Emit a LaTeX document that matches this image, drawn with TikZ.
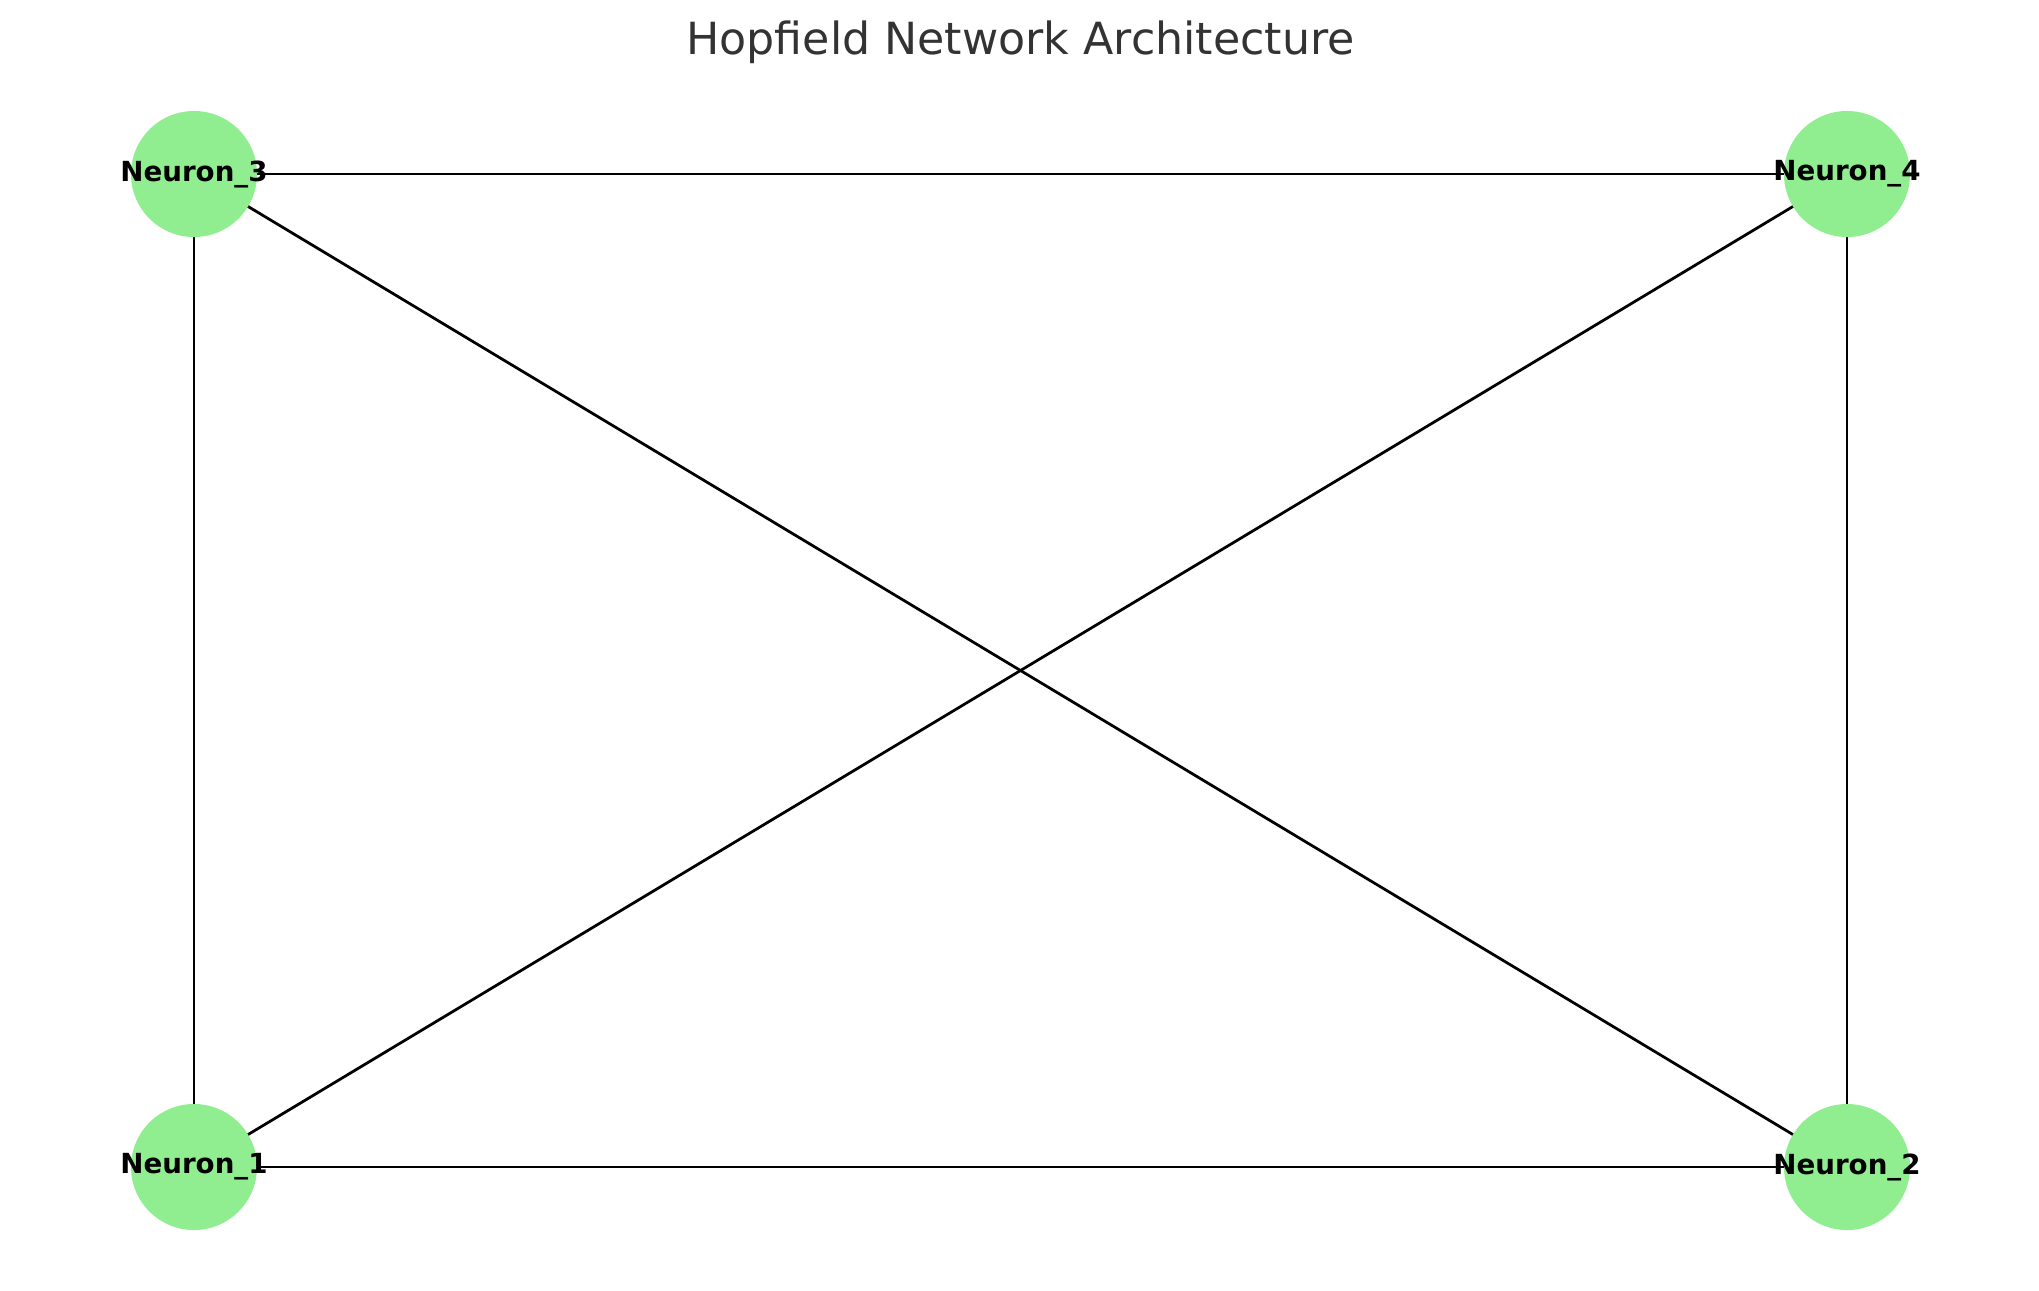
\documentclass[tikz,border=0pt]{standalone}
\usepackage{fontspec}
\setmainfont{DejaVu Sans}
\usetikzlibrary{backgrounds}
\definecolor{neurongreen}{HTML}{90EE90}
\definecolor{titlegray}{HTML}{333333}
\tikzset{
  neuron/.style={circle,fill=neurongreen,minimum size=1.6002cm,inner sep=0pt},
  neuronlabel/.style={font=\fontsize{10}{12}\selectfont\bfseries,text=black,inner sep=0pt},
  synapse/.style={line width=1pt,black}
}
\begin{document}
\begin{tikzpicture}[x=0.0127cm,y=-0.0127cm]
\useasboundingbox (0,0) rectangle (2039,1290);
\node[font=\fontsize{16}{19}\selectfont,text=titlegray,anchor=base] (title) at (1020.5,54) {Hopfield Network Architecture};
\node[neuron,label={[neuronlabel]center:Neuron\_1}] (n1) at (194,1167) {};
\node[neuron,label={[neuronlabel]center:Neuron\_2}] (n2) at (1847,1167) {};
\node[neuron,label={[neuronlabel]center:Neuron\_3}] (n3) at (194,174) {};
\node[neuron,label={[neuronlabel]center:Neuron\_4}] (n4) at (1847,174) {};
\begin{scope}[on background layer]
\draw[synapse] (n3.center) -- (n4.center);
\draw[synapse] (n3.center) -- (n1.center);
\draw[synapse] (n3.center) -- (n2.center);
\draw[synapse] (n4.center) -- (n1.center);
\draw[synapse] (n4.center) -- (n2.center);
\draw[synapse] (n1.center) -- (n2.center);
\end{scope}
\end{tikzpicture}
\end{document}
